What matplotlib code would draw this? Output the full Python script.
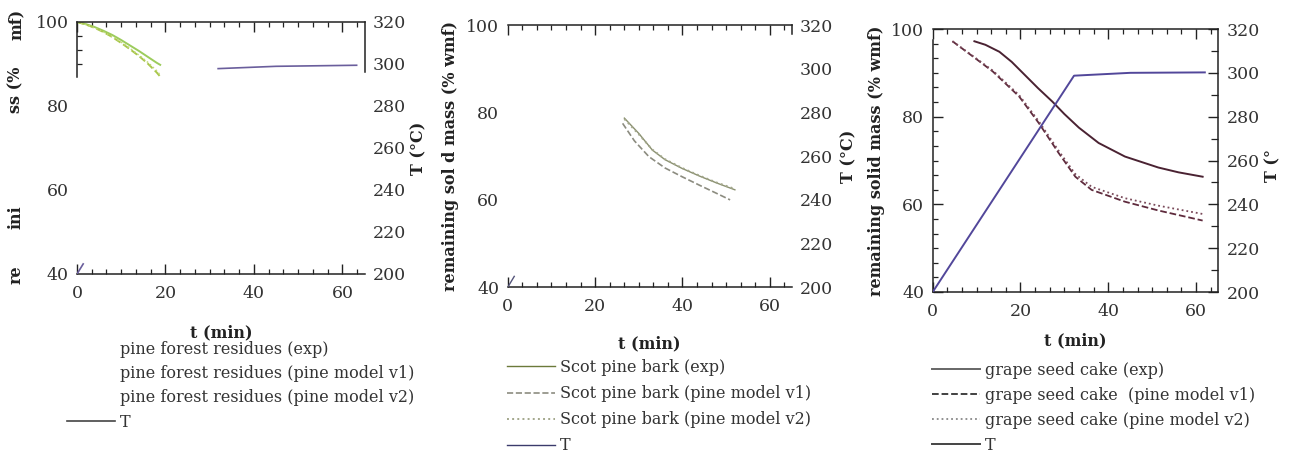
import numpy as np
import matplotlib.pyplot as plt
from matplotlib.ticker import MultipleLocator, FixedLocator

plt.rcParams['font.family'] = ['DejaVu Serif']

nan = np.nan

# --- pine forest residues (only the first ~19 min of mass loss is legible) ---
pfr_t = [0, 2, 4, 6, 8, 10, 12, 14, 16, 18, 18.8]
pfr_exp = [100, 99.5, 98.8, 97.9, 96.9, 95.7, 94.4, 93.1, 91.7, 90.3, 89.8]
pfr_v1 = [100, 99.4, 98.6, 97.6, 96.4, 95.0, 93.5, 91.9, 90.1, 88.0, 87.0]
pfr_v2 = [100, 99.4, 98.6, 97.6, 96.5, 95.2, 93.7, 92.1, 90.4, 88.4, 87.4]
pfr_T_t = [0, 1.4, nan, 31.9, 45, 63.2]
pfr_T = [200, 204.8, nan, 297.8, 298.9, 299.4]

# --- Scot pine bark ---
spb_t = [26.7, 30, 33.1, 36, 39.9, 44, 48, 52]
spb_exp = [78.7, 75.2, 71.4, 69.2, 67.2, 65.4, 63.8, 62.3]
spb_v2 = [78.5, 75.0, 71.5, 69.3, 67.3, 65.5, 63.9, 62.5]
spb_v1_t = [26.3, 29, 32.3, 36, 39.9, 44, 48, 50.9]
spb_v1 = [77.5, 73.5, 69.9, 67.3, 65.3, 63.3, 61.4, 60.0]
spb_T_t = [0, 1.5]
spb_T = [200, 205]

# --- grape seed cake ---
gsc_exp_t = [9.5, 12, 15.2, 18, 21.2, 24, 27.3, 30, 33.3, 37.8, 43.8, 51.4, 56, 61.5]
gsc_exp = [97.2, 96.4, 94.8, 92.5, 89.3, 86.5, 83.4, 80.6, 77.5, 74.0, 70.9, 68.4, 67.3, 66.3]
gsc_mod_t = [4.5, 9.2, 13.7, 19.7, 24.2, 28.7, 32.5, 36.2, 43.8, 51.4, 61.5]
gsc_v1 = [97.2, 93.7, 90.3, 84.6, 78.5, 71.7, 66.3, 63.3, 60.6, 58.6, 56.3]
gsc_v2 = [97.2, 93.8, 90.5, 84.9, 78.9, 72.2, 66.9, 64.0, 61.4, 59.7, 57.8]
gsc_T_t = [0, 32.2, 45, 62]
gsc_T = [200, 298.7, 300.0, 300.2]

legend_suffix = ['(exp)', '(pine model v1)', '(pine model v2)']

fig = plt.figure(figsize=(12.89, 4.55), dpi=100)
W, H = 1289.0, 455.0
TICK_FS = 12.5
LABEL_FS = 11.5


def make_axes(left, top, right, bottom):
    ax = fig.add_axes([left / W, 1 - bottom / H, (right - left) / W, (bottom - top) / H])
    ax.set_xlim(0, 65)
    ax.set_ylim(40, 100)
    ax.xaxis.set_major_locator(MultipleLocator(20))
    ax.xaxis.set_minor_locator(MultipleLocator(20 / 6))
    ax.yaxis.set_major_locator(MultipleLocator(20))
    ax.yaxis.set_minor_locator(MultipleLocator(20 / 6))
    ax.tick_params(which='both', direction='in', top=True, right=False,
                   color='#222', labelcolor='#333', labelsize=TICK_FS)
    ax.tick_params(which='major', length=7, width=1)
    ax.tick_params(which='minor', length=3.5, width=0.9)
    ax.tick_params(axis='x', pad=8)
    ax.tick_params(axis='y', pad=6)
    ax.spines['right'].set_visible(False)
    for s in ['left', 'top', 'bottom']:
        ax.spines[s].set_linewidth(1.1)
        ax.spines[s].set_color('#222')

    axT = ax.twinx()
    axT.set_ylim(200, 320)
    axT.yaxis.set_major_locator(MultipleLocator(20))
    axT.yaxis.set_minor_locator(MultipleLocator(10))
    axT.tick_params(which='both', direction='in', color='#222',
                    labelcolor='#333', labelsize=TICK_FS, pad=6)
    axT.tick_params(which='major', length=7, width=1)
    axT.tick_params(which='minor', length=5, width=0.9)
    for s in ['left', 'top', 'bottom']:
        axT.spines[s].set_visible(False)
    axT.spines['right'].set_linewidth(1.1)
    axT.spines['right'].set_color('#222')

    ax.set_xlabel('t (min)', fontweight='bold', fontsize=LABEL_FS, color='#222')
    return ax, axT


def add_legend(ax, handles, labels, x, y, spacing):
    leg = ax.legend(handles, labels, loc='upper left',
                    bbox_to_anchor=(x / W, 1 - y / H), bbox_transform=fig.transFigure,
                    frameon=False, fontsize=11.5, handlelength=3.0, handletextpad=0.3,
                    labelspacing=spacing, borderpad=0, borderaxespad=0)
    for txt in leg.get_texts():
        txt.set_color('#333')
    return leg


# panel 1: pine forest residues
ax1, ax1T = make_axes(77, 22, 364.6, 274)
l1e, = ax1.plot(pfr_t, pfr_exp, color='#9ccc5c', lw=1.4)
l1a, = ax1.plot(pfr_t, pfr_v1, color='#a8c64a', lw=1.4, ls='--')
l1b, = ax1.plot(pfr_t, pfr_v2, color='#c2d878', lw=1.1, ls=':')
l1T, = ax1T.plot(pfr_T_t, pfr_T, color='#6a5e9c', lw=1.2)
ax1.spines['left'].set_bounds(87, 100)
ax1.tick_params(axis='y', which='major', length=0)
ax1.yaxis.set_minor_locator(FixedLocator([90, 93.33, 96.67]))
ax1T.spines['right'].set_bounds(296, 320)
ax1T.tick_params(which='major', length=0)
ax1T.yaxis.set_minor_locator(FixedLocator([300]))
ax1T.tick_params(which='minor', length=7)
ax1T.set_ylabel('T (°C)', fontweight='bold', fontsize=LABEL_FS, color='#222')
ax1T.yaxis.set_label_coords(1.158, 0.5)
ax1.xaxis.set_label_coords(0.5, -0.2)
for frag, yc in [('re', 275), ('ini', 217), ('ss (%', 90), ('mf)', 24)]:
    fig.text(16 / W, 1 - yc / H, frag, rotation=90, ha='center', va='center',
             fontweight='bold', fontsize=LABEL_FS, color='#222')
leg1 = add_legend(ax1, [l1e, l1a, l1b, l1T],
                  ['pine forest residues ' + s for s in legend_suffix] + ['T'],
                  67, 341, 0.45)
for h in leg1.legend_handles[:3]:
    h.set_visible(False)
leg1.legend_handles[3].set_color('#444')

# panel 2: Scot pine bark
ax2, ax2T = make_axes(507.7, 25, 791.7, 287.3)
l2e, = ax2.plot(spb_t, spb_exp, color='#8a9070', lw=1.0)
l2a, = ax2.plot(spb_v1_t, spb_v1, color='#8c8c80', lw=1.2, ls='--')
l2b, = ax2.plot(spb_t, spb_v2, color='#a3a78c', lw=1.4, ls=':')
l2T, = ax2T.plot(spb_T_t, spb_T, color='#55557a', lw=1.0)
ax2.spines['left'].set_visible(False)
ax2.tick_params(axis='y', which='both', length=0)
ax2T.spines['right'].set_bounds(316, 320)
ax2T.tick_params(which='both', length=0)
ax2.set_ylabel('remaining sol d mass (% wmf)', fontweight='bold', fontsize=LABEL_FS, color='#222')
ax2.yaxis.set_label_coords(-0.17, 0.5)
ax2T.set_ylabel('T (°C)', fontweight='bold', fontsize=LABEL_FS, color='#222')
ax2T.yaxis.set_label_coords(1.17, 0.5)
ax2.xaxis.set_label_coords(0.5, -0.183)
leg2 = add_legend(ax2, [l2e, l2a, l2b, l2T],
                  ['Scot pine bark ' + s for s in legend_suffix] + ['T'],
                  507, 359, 0.57)
leg2.legend_handles[0].set_color('#6b7a3a')
leg2.legend_handles[3].set_color('#3b3b6b')

# panel 3: grape seed cake
ax3, ax3T = make_axes(932.7, 29, 1218, 292)
l3e, = ax3.plot(gsc_exp_t, gsc_exp, color='#4a2232', lw=1.4)
l3a, = ax3.plot(gsc_mod_t, gsc_v1, color='#5e2a3c', lw=1.3, ls='--')
l3b, = ax3.plot(gsc_mod_t, gsc_v2, color='#7a4a5a', lw=1.3, ls=':')
l3T, = ax3T.plot(gsc_T_t, gsc_T, color='#52479a', lw=1.4)
ax3.spines['left'].set_bounds(40, 97.6)
ax3.set_ylabel('remaining solid mass (% wmf)', fontweight='bold', fontsize=LABEL_FS, color='#222')
ax3.yaxis.set_label_coords(-0.168, 0.5)
ax3T.set_ylabel('T (°', fontweight='bold', fontsize=LABEL_FS, color='#222')
ax3T.yaxis.set_label_coords(1.161, 0.48)
ax3.xaxis.set_label_coords(0.5, -0.152)
leg3 = add_legend(ax3, [l3e, l3a, l3b, l3T],
                  ['grape seed cake (exp)', 'grape seed cake  (pine model v1)',
                   'grape seed cake (pine model v2)', 'T'],
                  932, 362, 0.5)
leg3.legend_handles[0].set_color('#666')
leg3.legend_handles[1].set_color('#333')
leg3.legend_handles[2].set_color('#888')
leg3.legend_handles[3].set_color('#444')

fig.savefig('out.png', dpi=100)
